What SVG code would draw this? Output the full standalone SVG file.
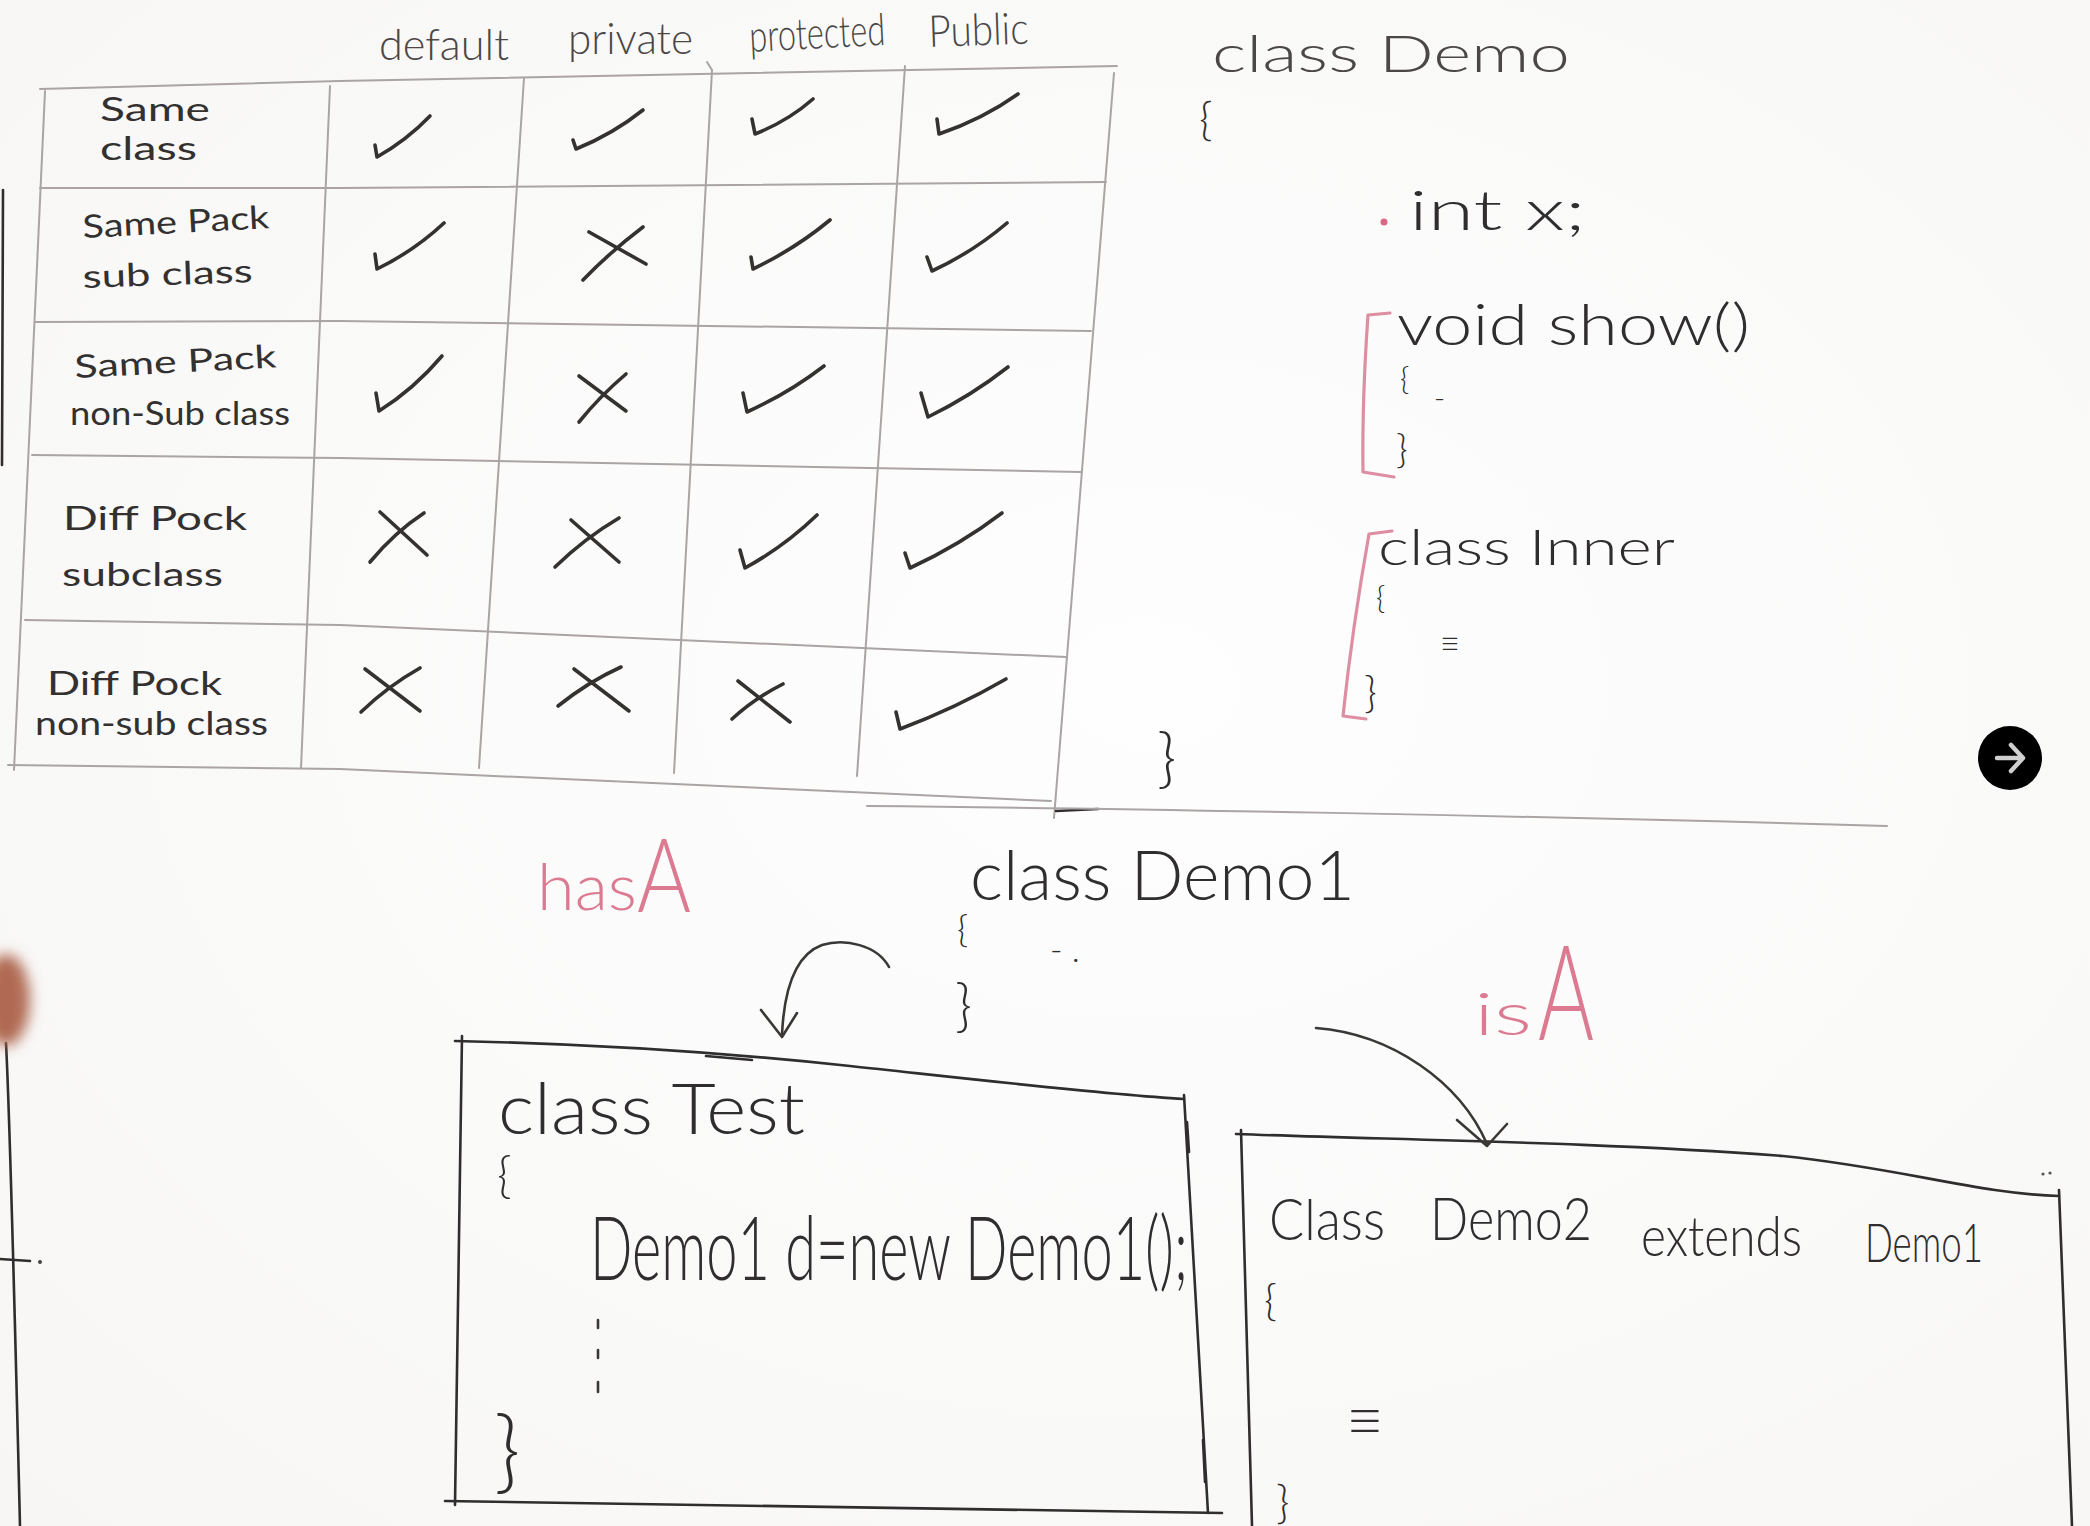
<svg xmlns="http://www.w3.org/2000/svg" width="2090" height="1526" viewBox="0 0 2090 1526">
  <defs>
    <style>
      .hand { font-family: Lato, 'Open Sans', 'DejaVu Sans', sans-serif; font-weight: 300; fill: #2f2d2d; }
      .label { font-family: Lato, 'Open Sans', 'DejaVu Sans', sans-serif; font-weight: 400; fill: #333030; }
      .soft { fill: #4b4747; }
      .pinkTxt { font-family: Lato, 'Open Sans', 'DejaVu Sans', sans-serif; font-weight: 300; fill: #dc7a92; }
      .grid { fill: none; stroke: #aaa4a4; stroke-width: 2; stroke-linecap: round; }
      .mark { fill: none; stroke: #343131; stroke-width: 3.6; stroke-linecap: round; stroke-linejoin: round; }
      .box { fill: none; stroke: #2f2d2d; stroke-width: 2.6; stroke-linecap: round; }
      .pen { fill: none; stroke: #3a3737; stroke-width: 2.6; stroke-linecap: round; stroke-linejoin: round; }
      .pinkLine { fill: none; stroke: #dd8ea3; stroke-width: 3.2; stroke-linecap: round; stroke-linejoin: round; }
    </style>
    <radialGradient id="board" cx="0.55" cy="0.45" r="0.8">
      <stop offset="0" stop-color="#fefefe"/>
      <stop offset="1" stop-color="#f7f6f5"/>
    </radialGradient>
    <filter id="blur8" x="-1" y="-1" width="3" height="3">
      <feGaussianBlur stdDeviation="7"/>
    </filter>
  </defs>

  <!-- whiteboard -->
  <rect width="2090" height="1526" fill="url(#board)"/>

  <!-- board edges on the left -->
  <g id="board-edge">
    <path class="box" d="M3,190 L2,465" stroke="#555"/>
    <path class="box" d="M6,1043 C10,1120 15,1320 20,1526" stroke="#5a5757"/>
    <path class="box" d="M0,1259 L30,1261"/>
    <circle cx="40" cy="1262" r="2" fill="#444"/>
    <ellipse cx="6" cy="1000" rx="24" ry="46" fill="#b06a52" filter="url(#blur8)"/>
  </g>

  <!-- access modifier table -->
  <g id="access-table">
    <g id="table-grid">
      <path class="grid" d="M40,89 L340,81 L1117,66"/>
      <path class="grid" d="M45,91 L14,770"/>
      <path class="grid" d="M330,86 L301,768" stroke="#8e8888"/>
      <path class="grid" d="M524,78 L479,768" stroke="#8e8888"/>
      <path class="grid" d="M707,62 L712,70 L674,773" stroke="#7f7a7a"/>
      <path class="grid" d="M905,66 L857,776" stroke="#8e8888"/>
      <path class="grid" d="M1114,73 L1054,818" stroke="#6e6a6a"/>
      <path class="grid" d="M40,188 L340,188 L1106,182"/>
      <path class="grid" d="M35,322 L340,321 L1091,331"/>
      <path class="grid" d="M32,455 L340,458 L1081,472"/>
      <path class="grid" d="M25,620 L340,625 L1066,657"/>
      <path class="grid" d="M8,765 L340,769 L1051,801" stroke="#8e8888"/>
      <path class="box" d="M1056,811 L1098,809" stroke-width="3"/>
    </g>

    <g id="table-headers" class="hand soft" font-size="44">
      <text x="379" y="60" textLength="130" lengthAdjust="spacingAndGlyphs">default</text>
      <text x="568" y="54" textLength="125" lengthAdjust="spacingAndGlyphs">private</text>
      <text x="750" y="52" textLength="136" lengthAdjust="spacingAndGlyphs" transform="rotate(-3 750 52)">protected</text>
      <text x="929" y="47" textLength="100" lengthAdjust="spacingAndGlyphs" transform="rotate(-2 929 47)">Public</text>
    </g>

    <g id="table-rows" class="label" font-size="32">
      <text x="100" y="121" textLength="110" lengthAdjust="spacingAndGlyphs">Same</text>
      <text x="100" y="160" textLength="97" lengthAdjust="spacingAndGlyphs">class</text>
      <text x="83" y="238" textLength="187" lengthAdjust="spacingAndGlyphs" transform="rotate(-3 83 238)">Same Pack</text>
      <text x="83" y="288" textLength="170" lengthAdjust="spacingAndGlyphs" transform="rotate(-2 83 288)">sub class</text>
      <text x="75" y="378" textLength="202" lengthAdjust="spacingAndGlyphs" transform="rotate(-3 75 378)">Same Pack</text>
      <text x="70" y="425" textLength="220" lengthAdjust="spacingAndGlyphs">non-Sub class</text>
      <text x="63" y="530" textLength="184" lengthAdjust="spacingAndGlyphs">Diff Pock</text>
      <text x="62" y="586" textLength="161" lengthAdjust="spacingAndGlyphs">subclass</text>
      <text x="47" y="695" textLength="175" lengthAdjust="spacingAndGlyphs">Diff Pock</text>
      <text x="35" y="735" textLength="233" lengthAdjust="spacingAndGlyphs">non-sub class</text>
    </g>

    <g id="table-marks" class="mark">
      <!-- row: same class -->
      <path d="M375,145 L377,157 Q407,140 430,116"/>
      <path d="M573,140 L576,149 Q613,134 643,110"/>
      <path d="M752,119 L755,134 Q788,121 813,99"/>
      <path d="M937,119 L939,134 Q983,119 1018,94"/>
      <!-- row: same package subclass -->
      <path d="M375,254 L377,269 Q414,251 444,223"/>
      <path d="M589,232 L646,264 M583,280 Q610,252 643,227"/>
      <path d="M751,257 L753,269 Q795,249 830,220"/>
      <path d="M927,257 L932,271 Q973,252 1007,223"/>
      <!-- row: same package non-subclass -->
      <path d="M376,393 L379,411 Q414,389 442,356"/>
      <path d="M579,376 L626,411 M579,422 Q600,396 626,374"/>
      <path d="M743,393 L747,412 Q789,393 824,366"/>
      <path d="M921,393 L928,417 Q971,396 1008,367"/>
      <!-- row: different package subclass -->
      <path d="M380,512 L427,555 M370,562 Q395,532 424,513"/>
      <path d="M571,520 L619,562 M555,567 Q585,538 619,518"/>
      <path d="M740,550 L745,568 Q785,546 817,515"/>
      <path d="M905,553 L910,568 Q960,545 1002,513"/>
      <!-- row: different package non-subclass -->
      <path d="M365,669 L420,711 M361,712 Q388,686 420,668"/>
      <path d="M574,669 L629,711 M558,706 Q588,682 621,667"/>
      <path d="M738,681 L790,722 M732,719 Q755,698 783,684"/>
      <path d="M896,712 L900,729 Q956,708 1006,679"/>
    </g>
  </g>

  <!-- class Demo with members -->
  <g id="class-demo">
    <text class="hand soft" x="1212" y="72" font-size="52" textLength="358" lengthAdjust="spacingAndGlyphs">class Demo</text>
    <text class="hand" x="1199" y="135" font-size="46">{</text>
    <circle cx="1384" cy="222" r="3.5" fill="#d96a86"/>
    <text class="hand" x="1409" y="230" font-size="56" textLength="177" lengthAdjust="spacingAndGlyphs">int x;</text>
    <path class="pinkLine" d="M1390,313 L1368,315 Q1362,400 1363,472 L1394,477"/>
    <text class="hand" x="1397" y="345" font-size="58" textLength="353" lengthAdjust="spacingAndGlyphs">void show()</text>
    <text class="hand" x="1400" y="390" font-size="32">{</text>
    <text class="hand" x="1434" y="408" font-size="30">-</text>
    <text class="hand" x="1396" y="463" font-size="40">}</text>
    <path class="pinkLine" d="M1392,531 L1369,534 Q1352,630 1343,716 L1366,719"/>
    <text class="hand" x="1378" y="565" font-size="50" textLength="297" lengthAdjust="spacingAndGlyphs">class Inner</text>
    <text class="hand" x="1376" y="609" font-size="32">{</text>
    <text class="hand" x="1440" y="656" font-size="36" textLength="20" lengthAdjust="spacingAndGlyphs">≡</text>
    <text class="hand" x="1364" y="708" font-size="44">}</text>
    <text class="hand" x="1157" y="780" font-size="66">}</text>
  </g>

  <!-- section divider -->
  <path id="divider" class="grid" d="M867,806 C1100,808 1500,815 1887,826" stroke="#9a9595" stroke-width="2.4"/>

  <!-- relation labels -->
  <g id="labels">
    <text class="pinkTxt" x="537" y="910" font-size="66" textLength="100" lengthAdjust="spacingAndGlyphs">has</text>
    <text class="pinkTxt" x="637" y="912" font-size="102" textLength="54" lengthAdjust="spacingAndGlyphs">A</text>
    <text class="pinkTxt" x="1474" y="1035" font-size="60" textLength="58" lengthAdjust="spacingAndGlyphs">is</text>
    <text class="pinkTxt" x="1538" y="1040" font-size="132" textLength="56" lengthAdjust="spacingAndGlyphs">A</text>
  </g>

  <!-- class Demo1 -->
  <g id="class-demo1">
    <text class="hand" x="970" y="900" font-size="68" textLength="385" lengthAdjust="spacingAndGlyphs">class Demo1</text>
    <text class="hand" x="957" y="942" font-size="38">{</text>
    <text class="hand" x="1050" y="962" font-size="34">- .</text>
    <text class="hand" x="955" y="1025" font-size="58">}</text>
  </g>

  <!-- class Test (has-a) -->
  <g id="class-test">
    <path class="box" d="M455,1041 C600,1044 720,1052 850,1066 S1100,1094 1184,1099"/>
    <path class="box" d="M706,1056 L752,1060" stroke-width="4"/>
    <path class="box" d="M462,1036 L455,1505"/>
    <path class="box" d="M1184,1095 L1208,1513"/>
    <path class="box" d="M1187,1122 L1189,1152 M1203,1440 L1205,1482" stroke-width="4"/>
    <path class="box" d="M445,1501 L1222,1513"/>
    <text class="hand" x="498" y="1134" font-size="70" textLength="307" lengthAdjust="spacingAndGlyphs">class Test</text>
    <text class="hand" x="497" y="1192" font-size="50">{</text>
    <text class="hand" x="590" y="1280" font-size="88" textLength="598" lengthAdjust="spacingAndGlyphs">Demo1 d=new Demo1();</text>
    <path class="pen" d="M598,1320 L598,1328 M598,1350 L598,1358 M598,1382 L598,1392"/>
    <text class="hand" x="494" y="1482" font-size="90">}</text>
  </g>

  <!-- class Demo2 (is-a) -->
  <g id="class-demo2">
    <path class="box" d="M1236,1134 C1400,1140 1600,1142 1783,1156 C1900,1168 1980,1194 2059,1196"/>
    <path class="box" d="M1241,1130 L1252,1526"/>
    <path class="box" d="M2059,1190 L2072,1526"/>
    <circle cx="2043" cy="1174" r="1.6" fill="#555"/>
    <circle cx="2050" cy="1173" r="1.6" fill="#555"/>
    <text class="hand" x="1269" y="1240" font-size="58" textLength="116" lengthAdjust="spacingAndGlyphs">Class</text>
    <text class="hand" x="1430" y="1240" font-size="60" textLength="162" lengthAdjust="spacingAndGlyphs">Demo2</text>
    <text class="hand" x="1641" y="1256" font-size="56" textLength="161" lengthAdjust="spacingAndGlyphs">extends</text>
    <text class="hand" x="1865" y="1262" font-size="54" textLength="118" lengthAdjust="spacingAndGlyphs">Demo1</text>
    <text class="hand" x="1264" y="1316" font-size="44">{</text>
    <text class="hand" x="1346" y="1442" font-size="62" textLength="38" lengthAdjust="spacingAndGlyphs">≡</text>
    <text class="hand" x="1276" y="1518" font-size="46">}</text>
  </g>

  <!-- relation arrows -->
  <g id="connectors">
    <path class="pen" d="M889,967 C877,945 845,938 822,945 C795,955 784,990 782,1035"/>
    <path class="pen" d="M761,1010 L782,1037 L797,1013"/>
    <path class="pen" d="M1316,1028 C1392,1034 1460,1082 1487,1144" stroke="#555" stroke-width="2.2"/>
    <path class="pen" d="M1457,1120 L1487,1146 L1507,1124" stroke="#555" stroke-width="2.2"/>
  </g>

  <!-- next button -->
  <g id="next-button">
    <circle cx="2010" cy="758" r="32" fill="#000"/>
    <path d="M1997,758 L2022,758 M2011,745 L2023,758 L2011,771" fill="none" stroke="#cfcfcf" stroke-width="4.5" stroke-linecap="round" stroke-linejoin="round"/>
  </g>
</svg>
